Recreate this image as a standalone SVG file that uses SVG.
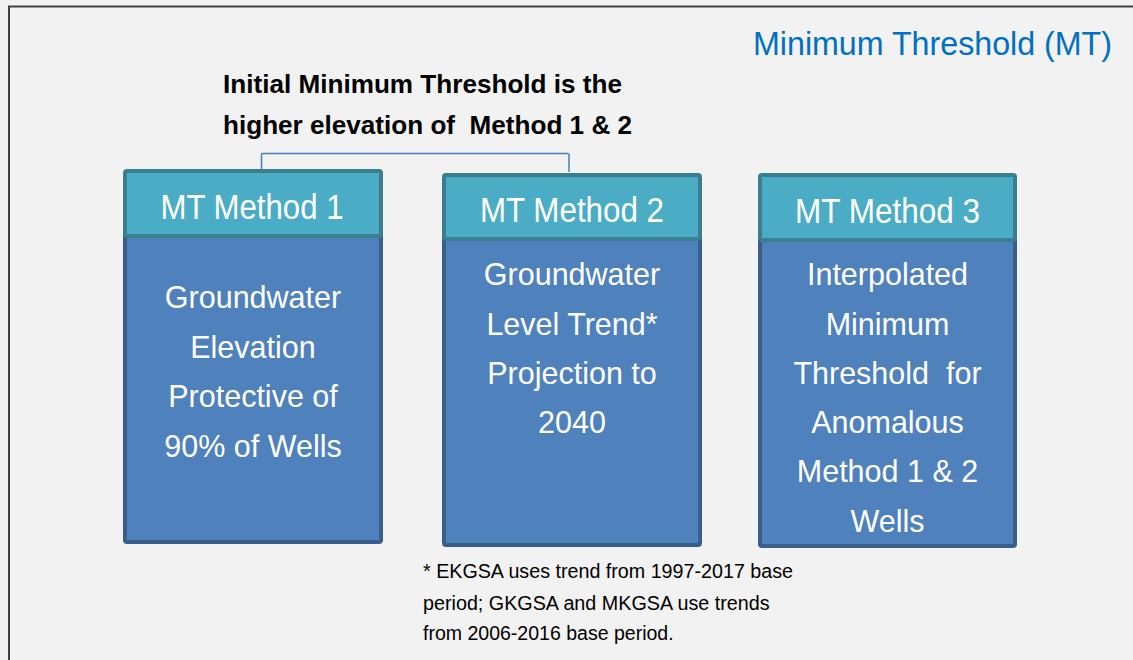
<svg xmlns="http://www.w3.org/2000/svg" width="1133" height="660" viewBox="0 0 1133 660">
<style>
.narrow{font-family:"Liberation Sans Narrow","Liberation Sans",Arial,sans-serif}
.reg{font-family:"Liberation Sans",Arial,sans-serif}
.hdr{fill:#4BACC6;stroke:#3A7F8F;stroke-width:4}
.body{fill:#4F81BD;stroke:#3A5E8C;stroke-width:4}
.htxt{fill:#FFFFFF;font-size:35px;text-anchor:middle}
.btxt{fill:#FFFFFF;font-size:30.5px;text-anchor:middle}
.conn{fill:none;stroke:#4A7EBB;stroke-width:1.5}
</style>
<rect x="0" y="0" width="1133" height="660" fill="#F2F2F2"/>
<path d="M9,660 V6.5 H1133" fill="none" stroke="#404040" stroke-width="2"/>
<g id="title">
<text class="narrow" x="753" y="55" font-size="34" fill="#0070C0" textLength="359" lengthAdjust="spacingAndGlyphs">Minimum Threshold (MT)</text>
</g>
<g id="heading" class="narrow" font-size="26.5" font-weight="bold" fill="#000000">
<text x="223" y="92.7" textLength="399" lengthAdjust="spacingAndGlyphs">Initial Minimum Threshold is the</text>
<text x="223" y="134" textLength="409" lengthAdjust="spacingAndGlyphs" xml:space="preserve">higher elevation of  Method 1 &amp; 2</text>
</g>
<g id="connectors">
<path class="conn" d="M261.5,171 V155 Q261.5,153.5 263,153.5 H567.5 Q569,153.5 569,155 V172"/>
</g>
<g id="method1">
<rect class="body" x="125" y="234" width="256" height="308" rx="2"/>
<rect class="hdr" x="125" y="171" width="256" height="65" rx="2"/>
<text class="narrow htxt" x="252" y="219" textLength="183" lengthAdjust="spacingAndGlyphs">MT Method 1</text>
<text class="reg btxt" x="253" y="308">Groundwater</text>
<text class="reg btxt" x="253" y="357.5">Elevation</text>
<text class="reg btxt" x="253" y="407">Protective of</text>
<text class="reg btxt" x="253" y="456.5">90% of Wells</text>
</g>
<g id="method2">
<rect class="body" x="444" y="237" width="256" height="308" rx="2"/>
<rect class="hdr" x="444" y="175" width="256" height="64" rx="2"/>
<text class="narrow htxt" x="572" y="222" textLength="184" lengthAdjust="spacingAndGlyphs">MT Method 2</text>
<text class="reg btxt" x="572" y="285">Groundwater</text>
<text class="reg btxt" x="572" y="335">Level Trend*</text>
<text class="reg btxt" x="572" y="384">Projection to</text>
<text class="reg btxt" x="572" y="433">2040</text>
</g>
<g id="method3">
<rect class="body" x="760" y="238" width="255" height="308" rx="2"/>
<rect class="hdr" x="760" y="175" width="255" height="65" rx="2"/>
<text class="narrow htxt" x="887.5" y="222.5" textLength="185" lengthAdjust="spacingAndGlyphs">MT Method 3</text>
<text class="reg btxt" x="887.5" y="285">Interpolated</text>
<text class="reg btxt" x="887.5" y="335">Minimum</text>
<text class="reg btxt" x="887.5" y="384" xml:space="preserve">Threshold  for</text>
<text class="reg btxt" x="887.5" y="433">Anomalous</text>
<text class="reg btxt" x="887.5" y="482">Method 1 &amp; 2</text>
<text class="reg btxt" x="887.5" y="531.5">Wells</text>
</g>
<g id="footnote" class="reg" font-size="20" fill="#000000">
<text x="423" y="578.3" textLength="370" lengthAdjust="spacingAndGlyphs">* EKGSA uses trend from 1997-2017 base</text>
<text x="423" y="610" textLength="346.6" lengthAdjust="spacingAndGlyphs">period; GKGSA and MKGSA use trends</text>
<text x="423" y="640" textLength="250.6" lengthAdjust="spacingAndGlyphs">from 2006-2016 base period.</text>
</g>
</svg>
